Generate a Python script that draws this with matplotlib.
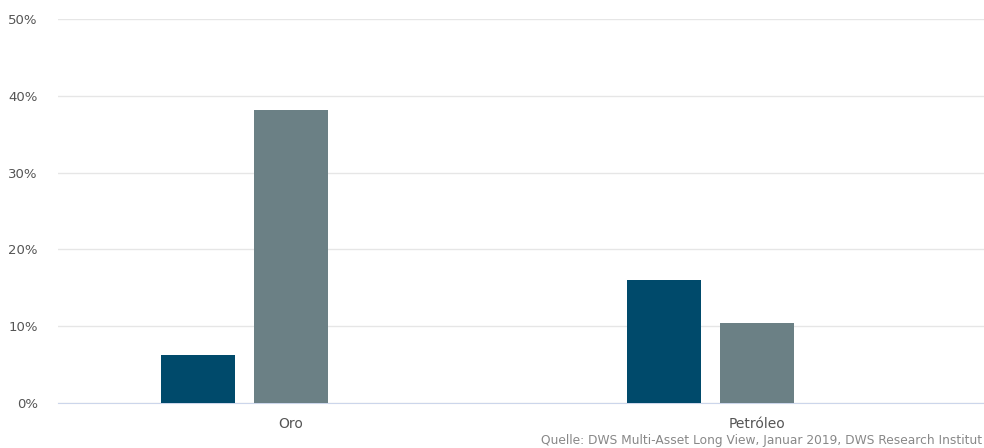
import matplotlib.pyplot as plt
import numpy as np

categories = ["Oro", "Petróleo"]
series_a = [6.2, 16.0]
series_b = [38.1, 10.4]
y_ticks = [0, 10, 20, 30, 40, 50]
source = "Quelle: DWS Multi-Asset Long View, Januar 2019, DWS Research Institut"

fig = plt.figure(figsize=(9.84, 4.48), dpi=100)
ax = fig.add_axes([58 / 984, 45 / 448, 1 - 58 / 984, 384 / 448])

x = np.arange(len(categories))
w = 0.158
ax.bar(x - 0.2, series_a, width=w, color="#004a6b", zorder=3)
ax.bar(x, series_b, width=w, color="#6b8085", zorder=3)

ax.set_xlim(-0.5, 1.487)
ax.set_ylim(0, 50)
ax.set_yticks(y_ticks)
ax.set_yticklabels([f"{t}%" for t in y_ticks])
ax.set_xticks(x)
ax.set_xticklabels(categories)
ax.grid(axis="y", color="#e6e6e6", linewidth=1, zorder=0)
for s in ["top", "right", "left"]:
    ax.spines[s].set_visible(False)
ax.spines["bottom"].set_color("#ccd6eb")
ax.tick_params(axis="both", length=0, colors="#555555", labelsize=9.5)
ax.tick_params(axis="x", labelsize=10, pad=10)
ax.tick_params(axis="y", pad=14.5)

fig.text(0.998, 0.002, source, ha="right", va="bottom", fontsize=8.8, color="#888888")

fig.savefig("out.png", dpi=100)
